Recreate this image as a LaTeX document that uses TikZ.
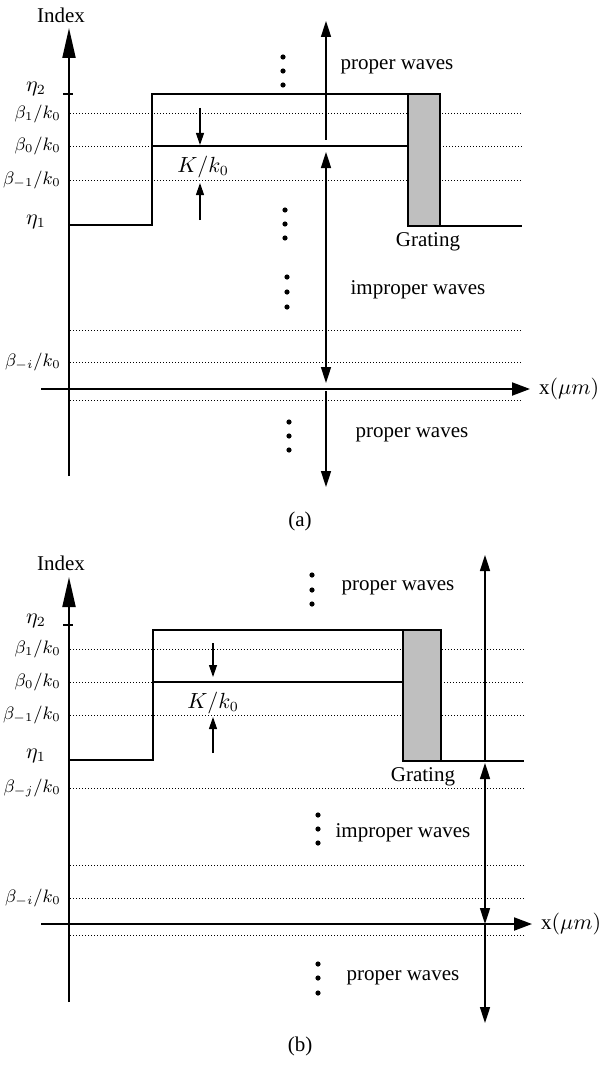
\documentclass[tikz,border=0pt]{standalone}
\usepackage{fontspec}
\setmainfont{Liberation Serif}
\usetikzlibrary{arrows.meta, positioning}

\begin{document}
\begin{tikzpicture}[x=0.5pt, y=-0.5pt,
    every node/.style={font=\fontsize{10.5}{12}\selectfont},
    axis/.style={line width=1pt, -{Triangle[length=15pt, width=6.5pt]}},
    xaxis/.style={line width=1pt, -{Triangle[length=9pt, width=6.5pt]}},
    level/.style={densely dotted, line width=0.5pt},
    wall/.style={line width=0.8pt},
    wave/.style={line width=0.8pt, -{Triangle[length=8pt, width=5pt]}},
    bothwave/.style={line width=0.8pt, {Triangle[length=8pt, width=5pt]}-{Triangle[length=8pt, width=5pt]}},
    gap/.style={line width=0.6pt, -{Triangle[length=6pt, width=4pt]}},
    lbl/.style={anchor=east, inner sep=1pt, font=\fontsize{9}{10}\selectfont}
]
\useasboundingbox (0,0) rectangle (599,1065);

    % (a) grating with eta_2 above beta_1
    \begin{scope}
        \coordinate (ytop) at (69,28);
        \coordinate (ybot) at (69,476);
        \coordinate (xs) at (41,389);
        \coordinate (xe) at (530,389);
        \draw[axis] (ybot) -- (ytop);
        \draw[xaxis] (xs) -- (xe);
        \node (index) at (61,15) {Index};
        \node[right=1pt of xe] (xlab) {x$(\mu m)$};

        \foreach \yy in {114,180,330,362,400}
            \draw[level] (70,\yy) -- (522,\yy);
        \draw[level] (70,146) -- (152,146);
        \draw[level] (440,146) -- (522,146);

        \draw[wall] (63,94) -- (73,94);
        \draw[wall] (69,225) -- (152,225) -- (152,94) -- (408,94);
        \draw[wall] (152,146) -- (408,146);
        \draw[wall, fill=black!25] (408,94) rectangle (440,226);
        \draw[wall] (440,226) -- (522,226);

        \node (eta2) at (36,89) {$\eta_2$};
        \node[lbl] (b1) at (63,114) {$\beta_1/k_0$};
        \node[lbl] (b0) at (63,146) {$\beta_0/k_0$};
        \node[lbl] (bm1) at (63,180) {$\beta_{-1}/k_0$};
        \node (eta1) at (36,222) {$\eta_1$};
        \node[lbl] (bmi) at (63,362) {$\beta_{-i}/k_0$};

        % K/k0 spacing
        \coordinate (ka) at (200,108);
        \coordinate (kb) at (200,145);
        \coordinate (kc) at (200,220);
        \coordinate (kd) at (200,183);
        \draw[gap] (ka) -- (kb);
        \draw[gap] (kc) -- (kd);
        \node (K) at (203,167) {$K/k_0$};

        % wave regions
        \coordinate (w1) at (326,140);
        \coordinate (w2) at (326,21);
        \coordinate (w3) at (326,152);
        \coordinate (w4) at (326,383);
        \coordinate (w5) at (326,391);
        \coordinate (w6) at (326,487);
        \draw[wave] (w1) -- (w2);
        \draw[bothwave] (w3) -- (w4);
        \draw[wave] (w5) -- (w6);

        \foreach \yy in {57,71,85} \fill (283,\yy) circle (1.3pt);
        \foreach \yy in {210,224,238} \fill (285,\yy) circle (1.3pt);
        \foreach \yy in {277,292,307} \fill (287,\yy) circle (1.3pt);
        \foreach \yy in {422,436,450} \fill (289,\yy) circle (1.3pt);

        \node (prop1) at (397,67) {proper waves};
        \node (grat) at (428,242) {Grating};
        \node (improp) at (418,290) {improper waves};
        \node (prop2) at (412,435) {proper waves};
        \node (capa) at (300,521) {(a)};
    \end{scope}

    % (b) grating with beta_1 above eta_2
    \begin{scope}[shift={(0,548)}]
        \coordinate (ytop) at (69,29);
        \coordinate (ybot) at (69,454);
        \coordinate (xs) at (41,376);
        \coordinate (xe) at (532,376);
        \draw[axis] (ybot) -- (ytop);
        \draw[xaxis] (xs) -- (xe);
        \node (index) at (61,15) {Index};
        \node[right=1pt of xe] (xlab) {x$(\mu m)$};

        \foreach \yy in {101,167,240,317,350,387}
            \draw[level] (70,\yy) -- (524,\yy);
        \draw[level] (70,134) -- (153,134);
        \draw[level] (441,134) -- (524,134);

        \draw[wall] (63,77) -- (73,77);
        \draw[wall] (69,212) -- (153,212) -- (153,82) -- (403,82);
        \draw[wall] (153,134) -- (403,134);
        \draw[wall, fill=black!25] (403,82) rectangle (441,213);
        \draw[wall] (441,213) -- (524,213);

        \node (eta2) at (36,73) {$\eta_2$};
        \node[lbl] (b1) at (63,101) {$\beta_1/k_0$};
        \node[lbl] (b0) at (63,134) {$\beta_0/k_0$};
        \node[lbl] (bm1) at (63,167) {$\beta_{-1}/k_0$};
        \node (eta1) at (36,208) {$\eta_1$};
        \node[lbl] (bmj) at (63,240) {$\beta_{-j}/k_0$};
        \node[lbl] (bmi) at (63,350) {$\beta_{-i}/k_0$};

        % K/k0 spacing
        \coordinate (ka) at (213,95);
        \coordinate (kb) at (213,129);
        \coordinate (kc) at (213,205);
        \coordinate (kd) at (213,169);
        \draw[gap] (ka) -- (kb);
        \draw[gap] (kc) -- (kd);
        \node (K) at (213,155) {$K/k_0$};

        % wave regions
        \coordinate (w1) at (485,213);
        \coordinate (w2) at (485,7);
        \coordinate (w3) at (485,215);
        \coordinate (w4) at (485,376);
        \coordinate (w5) at (485,377);
        \coordinate (w6) at (485,475);
        \draw[wave] (w1) -- (w2);
        \draw[bothwave] (w3) -- (w4);
        \draw[wave] (w5) -- (w6);

        \foreach \yy in {27,42,56} \fill (312,\yy) circle (1.3pt);
        \foreach \yy in {267,281,295} \fill (318,\yy) circle (1.3pt);
        \foreach \yy in {416,430,445} \fill (318,\yy) circle (1.3pt);

        \node (prop1) at (398,40) {proper waves};
        \node (grat) at (423,229) {Grating};
        \node (improp) at (403,285) {improper waves};
        \node (prop2) at (403,430) {proper waves};
        \node (capb) at (300,498) {(b)};
    \end{scope}
\end{tikzpicture}
\end{document}
